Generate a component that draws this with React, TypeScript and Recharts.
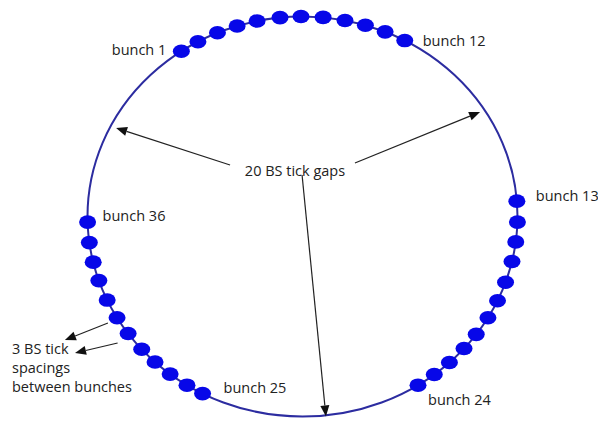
import { ScatterChart, Scatter, XAxis, YAxis, ReferenceArea, ReferenceLine, Customized } from "recharts";

// bunch numbers and their angular positions on the ring (deg, clockwise from top)
const bunchIds = [
  1, 2, 3, 4, 5, 6, 7, 8, 9, 10, 11, 12,
  13, 14, 15, 16, 17, 18, 19, 20, 21, 22, 23, 24,
  25, 26, 27, 28, 29, 30, 31, 32, 33, 34, 35, 36,
];
const bunchAngles = [
  -34.3, -29.1, -23.3, -17.7, -12.2, -6.0, -0.4, 5.5, 11.4, 17.0, 22.6, 28.4,
  85.6, 91.6, 97.3, 103.0, 109.2, 114.9, 120.4, 126.1, 131.3, 136.9, 142.2, 147.5,
  207.7, 212.5, 218.0, 223.3, 228.4, 234.2, 239.6, 245.3, 251.3, 256.8, 262.5, 268.4,
];

// which bunches get a name tag
const labelledBunches = [1, 12, 13, 24, 25, 36];
const labelOffsets: Record<number, { dx: number; dy: number; anchor: string }> = {
  1: { dx: -15, dy: -2, anchor: "end" },
  12: { dx: 18, dy: 0, anchor: "start" },
  13: { dx: 19, dy: -6, anchor: "start" },
  24: { dx: 10, dy: 14, anchor: "start" },
  25: { dx: 21, dy: -6, anchor: "start" },
  36: { dx: 15, dy: -7, anchor: "start" },
};

// annotation arrows in ring units: [tail, tip]
const gapArrows = [
  [{ x: -0.337, y: 0.2575 }, { x: -0.867, y: 0.4425 }],
  [{ x: 0.244, y: 0.2675 }, { x: 0.826, y: 0.5225 }],
  [{ x: -0.002, y: 0.2075 }, { x: 0.109, y: -1.0 }],
];
const spacingArrows = [
  [{ x: -0.905, y: -0.5325 }, { x: -1.105, y: -0.6175 }],
  [{ x: -0.86, y: -0.6325 }, { x: -1.058, y: -0.6825 }],
];
const spacingNote = ["3 BS tick", "spacings", "between bunches"];

const W = 598;
const H = 429;
const FONT = "'Open Sans', sans-serif";
const FS = 14.5;
const TEXT = "#222";

const data = bunchIds.map((id, i) => {
  const a = (bunchAngles[i] * Math.PI) / 180;
  return { id, x: Math.sin(a), y: Math.cos(a) };
});

const Bunch = (p: any) => {
  const id = p.payload?.id;
  const o = labelledBunches.includes(id) ? labelOffsets[id] : null;
  return (
    <g>
      <ellipse cx={p.cx} cy={p.cy} rx={8.5} ry={6.8} fill="#0707e8" />
      {o && (
        <text
          x={p.cx + o.dx}
          y={p.cy + o.dy}
          textAnchor={o.anchor}
          dominantBaseline="central"
          fontSize={FS}
          fontFamily={FONT}
          fill={TEXT}
        >
          {`bunch ${id}`}
        </text>
      )}
    </g>
  );
};

const Ring = (p: any) => (
  <ellipse
    cx={p.x + p.width / 2}
    cy={p.y + p.height / 2}
    rx={p.width / 2}
    ry={p.height / 2}
    fill="none"
    stroke="#2c2ca0"
    strokeWidth={2}
  />
);

const Arrow = (p: any) => {
  const { x1, y1, x2, y2 } = p;
  const ang = Math.atan2(y2 - y1, x2 - x1);
  const len = 11;
  const w = 4.5;
  const bx = x2 - len * Math.cos(ang);
  const by = y2 - len * Math.sin(ang);
  const nx = -Math.sin(ang) * w;
  const ny = Math.cos(ang) * w;
  return (
    <g>
      <line x1={x1} y1={y1} x2={bx} y2={by} stroke="#222" strokeWidth={1.2} />
      <polygon points={`${x2},${y2} ${bx + nx},${by + ny} ${bx - nx},${by - ny}`} fill="#111" />
    </g>
  );
};

const Notes = () => (
  <g fontFamily={FONT} fontSize={FS} fill={TEXT}>
    <text x={295} y={170} textAnchor="middle" dominantBaseline="central">20 BS tick gaps</text>
    {spacingNote.map((t, i) => (
      <text key={t} x={12} y={348 + i * 19} dominantBaseline="central">{t}</text>
    ))}
  </g>
);

export default function App() {
  return (
    <div style={{ position: "absolute", left: 0, top: 0, width: W, height: H, background: "#fff" }}>
      <ScatterChart width={W} height={H} margin={{ top: 16.5, right: 80.5, bottom: 12.5, left: 87.5 }}>
        <XAxis type="number" dataKey="x" domain={[-1, 1]} hide />
        <YAxis type="number" dataKey="y" domain={[-1, 1]} hide />
        <ReferenceArea x1={-1} x2={1} y1={-1} y2={1} ifOverflow="visible" shape={Ring} />
        {[...gapArrows, ...spacingArrows].map((seg, i) => (
          <ReferenceLine key={i} segment={seg} ifOverflow="visible" shape={Arrow} />
        ))}
        <Scatter data={data} shape={Bunch} isAnimationActive={false} />
        <Customized component={Notes} />
      </ScatterChart>
    </div>
  );
}
